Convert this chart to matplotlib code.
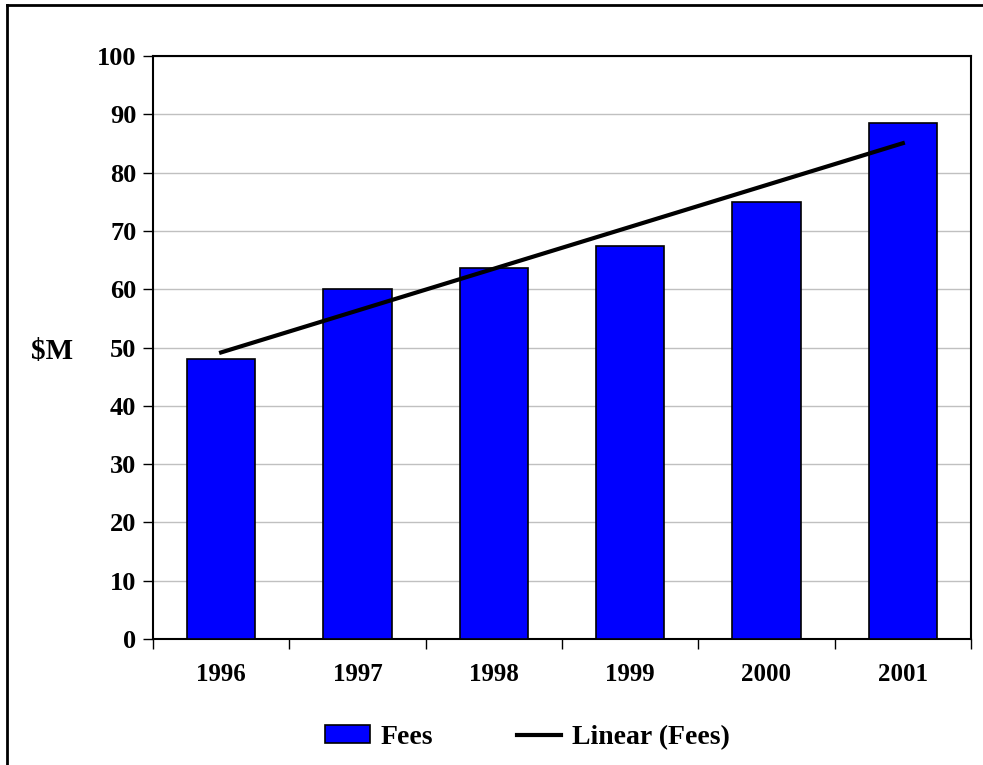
import numpy as np
import matplotlib
matplotlib.use("Agg")
from matplotlib import pyplot as plt
from matplotlib.lines import Line2D

years = ["1996", "1997", "1998", "1999", "2000", "2001"]
fees = [48.0, 60.0, 63.7, 67.4, 75.0, 88.5]

plt.rcParams["font.family"] = ["Liberation Serif", "DejaVu Serif"]
plt.rcParams["font.weight"] = "bold"

fig = plt.figure(figsize=(9.83, 7.65), dpi=100)
ax = fig.add_axes([0.1556, 0.1647, 0.8322, 0.7621])

x = np.arange(len(years))
ax.bar(x, fees, width=0.5, color="#0000FF", edgecolor="black", linewidth=1.2,
       label="Fees", zorder=3)

# trend line, least squares fit like Excel's linear trendline
slope, icpt = np.polyfit(x, fees, 1)
ax.plot(x, slope * x + icpt, color="black", linewidth=3, label="Linear (Fees)",
        zorder=4)

ax.set_xlim(-0.5, len(years) - 0.5)
ax.set_ylim(0, 100)
ax.set_yticks(np.arange(0, 101, 10))
ax.yaxis.grid(True, color="#c0c0c0", linewidth=1, zorder=0)
ax.set_axisbelow(True)

ax.set_xticks(x)
ax.set_xticklabels(years)
ax.set_xticks(np.arange(-0.5, len(years), 1), minor=True)
ax.tick_params(axis="x", which="major", length=0, pad=17, labelsize=18)
ax.tick_params(axis="x", which="minor", length=7, width=1, direction="out")
ax.tick_params(axis="y", length=7, width=1, direction="out", pad=5, labelsize=19)
for lab in ax.get_xticklabels() + ax.get_yticklabels():
    lab.set_fontweight("bold")

for s in ax.spines.values():
    s.set_linewidth(1.5)
    s.set_color("black")

fig.text(0.053, 0.54, "$M", fontsize=21, fontweight="bold", ha="center", va="center")

handles = [plt.Rectangle((0, 0), 1, 1, facecolor="#0000FF", edgecolor="black", linewidth=1.2),
           Line2D([0], [0], color="black", linewidth=3)]
fig.legend(handles, ["Fees", "Linear (Fees)"], loc="center", bbox_to_anchor=(0.537, 0.036),
           ncol=2, frameon=False, prop={"size": 20, "weight": "bold"},
           handlelength=1.6, handleheight=0.6, handletextpad=0.4, columnspacing=3.0)

# outer frame, only left and top edges are inside the picture
fig.add_artist(Line2D([0.0071, 0.0071], [0, 0.9935], color="black", linewidth=2,
                      transform=fig.transFigure))
fig.add_artist(Line2D([0.0071, 1.0], [0.9935, 0.9935], color="black", linewidth=2,
                      transform=fig.transFigure))

fig.savefig("out.png", dpi=100)
